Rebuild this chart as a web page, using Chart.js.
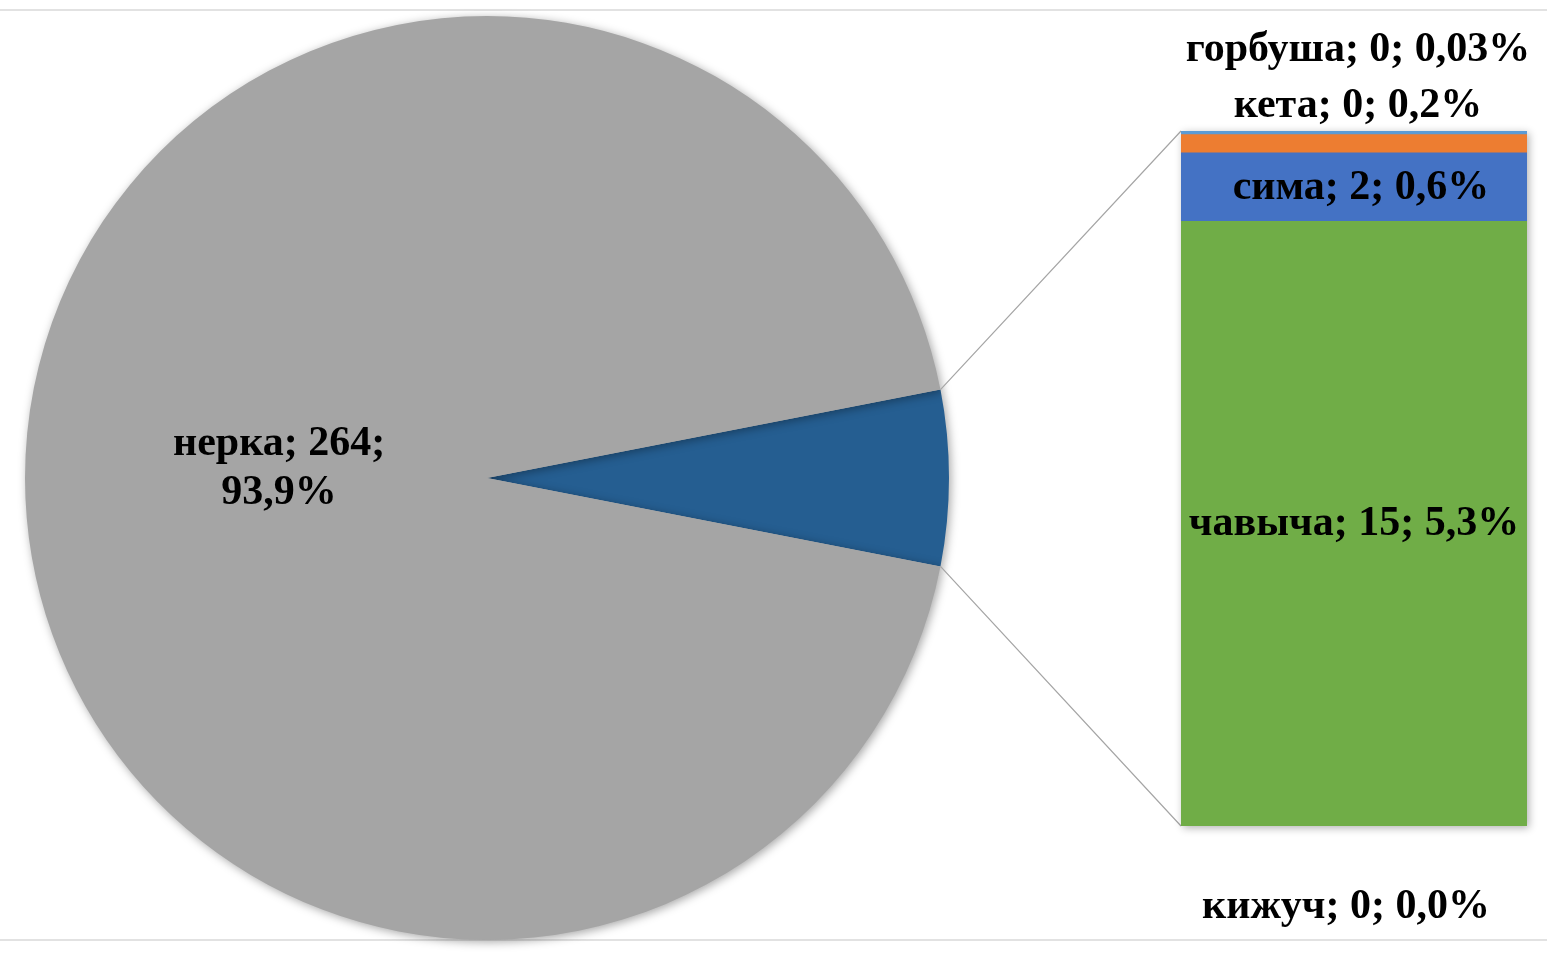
<!DOCTYPE html>
<html>
<head>
<meta charset="utf-8">
<script src="https://cdn.jsdelivr.net/npm/chart.js@4.4.1/dist/chart.umd.min.js"></script>
<style>
  body { margin: 0; background: #fff; }
  #wrap { position: relative; width: 1547px; height: 978px; }
  canvas { position: absolute; left: 0; top: 0; }
</style>
</head>
<body>
<div id="wrap">
  <canvas id="pieChart" width="1547" height="978"></canvas>
  <canvas id="barChart" width="1547" height="978"></canvas>
</div>
<script>
// данные
const mainName = 'нерка';
const mainValue = 264;
const barNames = ['чавыча', 'сима', 'кета', 'горбуша', 'кижуч'];
const barValues = [15, 1.7, 0.45, 0.08, 0.01];
const barDecimals = [1, 1, 1, 2, 1];
const barColors = ['#70AD47', '#4472C4', '#ED7D31', '#5B9BD5', '#A5A5A5'];

const otherSum = barValues.reduce((a, b) => a + b, 0);
const total = mainValue + otherSum;
const FONT = 'bold 42px "Liberation Serif", "Times New Roman", serif';

function pct(v, d) {
    return (v / total * 100).toFixed(d).replace('.', ',') + '%';
}

// пирог
const pieChart = new Chart(document.getElementById('pieChart'), {
    type: 'pie',
    data: {
        labels: ['Другие', mainName],
        datasets: [{
            data: [otherSum, mainValue],
            backgroundColor: ['#255E91', '#A5A5A5'],
            borderWidth: 0
        }]
    },
    options: {
        responsive: false,
        animation: false,
        rotation: 90 - otherSum / total * 180,
        layout: { padding: { left: 25, top: 16, right: 598, bottom: 38 } },
        plugins: { legend: { display: false }, tooltip: { enabled: false } }
    },
    plugins: [{
        id: 'pieExtras',
        beforeDraw(chart) {
            const ctx = chart.ctx;
            ctx.save();
            ctx.strokeStyle = '#D9D9D9';
            ctx.lineWidth = 1.5;
            ctx.beginPath();
            ctx.moveTo(0, 10); ctx.lineTo(1547, 10);
            ctx.moveTo(0, 940); ctx.lineTo(1547, 940);
            ctx.stroke();
            ctx.restore();
        },
        beforeDatasetsDraw(chart) {
            chart.ctx.save();
            chart.ctx.shadowColor = 'rgba(0,0,0,0.35)';
            chart.ctx.shadowBlur = 10;
            chart.ctx.shadowOffsetX = 2;
            chart.ctx.shadowOffsetY = 2;
        },
        afterDatasetsDraw(chart) {
            const ctx = chart.ctx;
            ctx.restore();
            const arc = chart.getDatasetMeta(0).data[1];
            const mid = (arc.startAngle + arc.endAngle) / 2;
            const r = arc.outerRadius * 0.45;
            const x = arc.x + Math.cos(mid) * r;
            const y = arc.y + Math.sin(mid) * r - 11;
            ctx.save();
            ctx.font = FONT;
            ctx.fillStyle = '#000';
            ctx.textAlign = 'center';
            ctx.textBaseline = 'middle';
            ctx.fillText(mainName + '; ' + Math.round(mainValue) + ';', x, y - 23);
            ctx.fillText(pct(mainValue, 1), x, y + 26);
            ctx.restore();
        }
    }]
});

// столбец
new Chart(document.getElementById('barChart'), {
    type: 'bar',
    data: {
        labels: [''],
        datasets: barNames.map((n, i) => ({
            label: n,
            data: [barValues[i]],
            backgroundColor: barColors[i],
            borderWidth: 0,
            barPercentage: 1,
            categoryPercentage: 1
        }))
    },
    options: {
        responsive: false,
        animation: false,
        layout: { padding: { left: 1181, top: 131, right: 20, bottom: 152 } },
        scales: {
            x: { stacked: true, display: false },
            y: { stacked: true, display: false, min: 0, max: otherSum }
        },
        plugins: { legend: { display: false }, tooltip: { enabled: false } }
    },
    plugins: [{
        id: 'barExtras',
        beforeDatasetsDraw(chart) {
            const ctx = chart.ctx;
            const a = chart.chartArea;
            // соединительные линии
            const arc = pieChart.getDatasetMeta(0).data[0];
            const r = arc.outerRadius;
            ctx.save();
            ctx.strokeStyle = '#A5A5A5';
            ctx.lineWidth = 1.2;
            ctx.beginPath();
            ctx.moveTo(arc.x + Math.cos(arc.startAngle) * r, arc.y + Math.sin(arc.startAngle) * r);
            ctx.lineTo(a.left, a.top);
            ctx.moveTo(arc.x + Math.cos(arc.endAngle) * r, arc.y + Math.sin(arc.endAngle) * r);
            ctx.lineTo(a.left, a.bottom);
            ctx.stroke();
            ctx.restore();
            ctx.save();
            ctx.shadowColor = 'rgba(0,0,0,0.3)';
            ctx.shadowBlur = 8;
            ctx.shadowOffsetX = 2;
            ctx.shadowOffsetY = 2;
            ctx.fillStyle = '#fff';
            ctx.fillRect(a.left, a.top, a.right - a.left, a.bottom - a.top);
            ctx.restore();
        },
        afterDatasetsDraw(chart) {
            const ctx = chart.ctx;
            const a = chart.chartArea;
            const cx = (a.left + a.right) / 2;
            ctx.save();
            ctx.font = FONT;
            ctx.fillStyle = '#000';
            ctx.textAlign = 'center';
            ctx.textBaseline = 'middle';
            const txt = i => barNames[i] + '; ' + Math.round(barValues[i]) + '; ' + pct(barValues[i], barDecimals[i]);
            const shift = [0, 7];
            [0, 1].forEach(i => {
                const el = chart.getDatasetMeta(i).data[0];
                ctx.fillText(txt(i), cx + shift[i], (el.y + el.base) / 2 + 1);
            });
            ctx.fillText(txt(2), cx + 4, a.top - 25);
            ctx.fillText(txt(3), cx + 4, a.top - 81);
            ctx.fillText(txt(4), cx - 8, a.bottom + 81);
            ctx.restore();
        }
    }]
});
</script>
</body>
</html>
